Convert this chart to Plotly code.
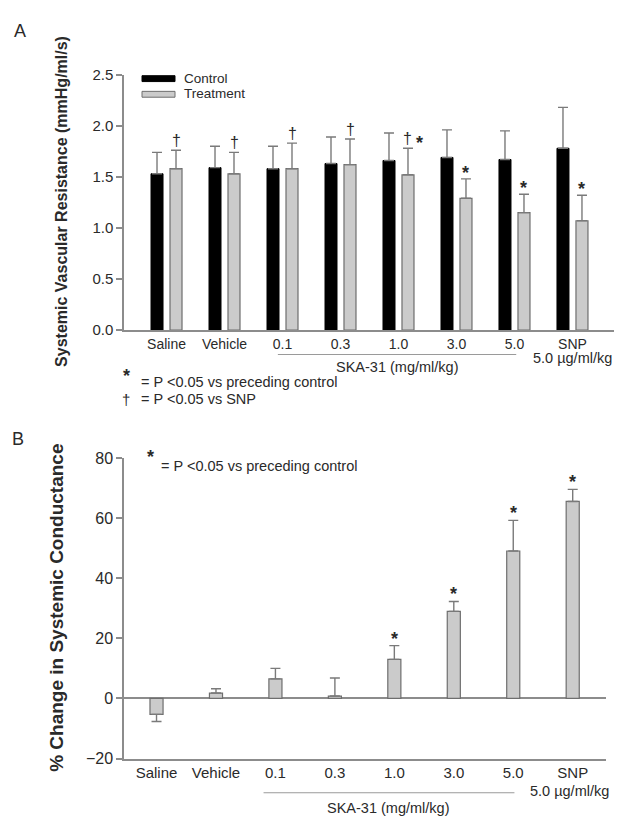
import plotly.graph_objects as go

# ---------------- data ----------------
categories = ["Saline", "Vehicle", "0.1", "0.3", "1.0", "3.0", "5.0", "SNP"]

control_svr = [1.53, 1.59, 1.58, 1.63, 1.66, 1.69, 1.67, 1.78]
control_err = [0.21, 0.21, 0.22, 0.26, 0.27, 0.27, 0.28, 0.40]
treat_svr = [1.58, 1.53, 1.58, 1.62, 1.52, 1.29, 1.15, 1.07]
treat_err = [0.18, 0.21, 0.25, 0.25, 0.26, 0.19, 0.18, 0.25]
dagger_A = [True, True, True, True, True, False, False, False]
star_A = [False, False, False, False, True, True, True, True]

pct_change = [-5.3, 1.8, 6.5, 0.8, 13.0, 29.0, 49.1, 65.6]
pct_err = [2.4, 1.4, 3.5, 6.0, 4.6, 3.3, 10.2, 4.0]
star_B = [False, False, False, False, True, True, True, True]

series_names = ["Control", "Treatment"]

# ---------------- styling ----------------
# page is 632x835; the html body adds an 8px margin, so the figure is 8px smaller
OFF = 8
W, H = 632 - OFF, 835 - OFF
FONT = "Liberation Sans, Arial, Helvetica, sans-serif"
AXC = "#8c8c8c"
TXT = "#2a2a2a"
GRAY_FILL = "#cbcbcb"
GRAY_LINE = "#6e6e6e"


def px_x(p):
    """page pixel x -> paper fraction"""
    return (p - OFF) / W


def px_y(p):
    """page pixel y -> paper fraction"""
    return 1 - (p - OFF) / H


fig = go.Figure()

err_style = dict(type="data", symmetric=False, color="#7a7a7a", thickness=1.4, width=5)

fig.add_trace(go.Bar(
    x=categories, y=control_svr, name=series_names[0],
    marker=dict(color="#000000", line=dict(color="#000000", width=1)),
    error_y=dict(array=control_err, arrayminus=[0] * len(control_err), **err_style),
    xaxis="x", yaxis="y", showlegend=False,
))
fig.add_trace(go.Bar(
    x=categories, y=treat_svr, name=series_names[1],
    marker=dict(color=GRAY_FILL, line=dict(color=GRAY_LINE, width=1.2)),
    error_y=dict(array=treat_err, arrayminus=[0] * len(treat_err), **err_style),
    xaxis="x", yaxis="y", showlegend=False,
))

plus_B = [e if v >= 0 else 0 for v, e in zip(pct_change, pct_err)]
minus_B = [e if v < 0 else 0 for v, e in zip(pct_change, pct_err)]
fig.add_trace(go.Bar(
    x=categories, y=pct_change, name="% Change",
    marker=dict(color=GRAY_FILL, line=dict(color=GRAY_LINE, width=1.2)),
    error_y=dict(array=plus_B, arrayminus=minus_B, **err_style),
    xaxis="x2", yaxis="y2", showlegend=False, width=0.22,
))

tickfont = dict(family=FONT, size=14, color=TXT)

fig.update_layout(
    width=W, height=H,
    margin=dict(l=0, r=0, t=0, b=0),
    paper_bgcolor="white", plot_bgcolor="white",
    barmode="group", bargap=0.345, bargroupgap=0.368,
    font=dict(family=FONT, color=TXT),
    xaxis=dict(type="category", domain=[px_x(124), px_x(614)], anchor="y", range=[-0.733, 7.716],
               showline=True, linecolor=AXC, linewidth=1.5, ticks="", showgrid=False,
               tickfont=tickfont, zeroline=False),
    yaxis=dict(domain=[px_y(328), px_y(67)], anchor="x", range=[0, 2.5], dtick=0.5,
               tickformat=".1f", showline=True, linecolor=AXC, linewidth=1.5,
               ticks="outside", ticklen=6, tickcolor=AXC, tickwidth=1.5,
               showgrid=False, zeroline=False, tickfont=dict(family=FONT, size=15, color=TXT)),
    xaxis2=dict(type="category", domain=[px_x(124), px_x(606)], anchor="y2", range=[-0.547, 7.56],
                showline=True, linecolor=AXC, linewidth=1.5, ticks="", showgrid=False,
                tickfont=dict(family=FONT, size=15, color=TXT), zeroline=False),
    yaxis2=dict(domain=[px_y(766), px_y(459)], anchor="x2", range=[-20, 80], dtick=20,
                showline=True, linecolor=AXC, linewidth=1.5,
                ticks="outside", ticklen=6, tickcolor=AXC, tickwidth=1.5,
                showgrid=False, zeroline=True, zerolinecolor=AXC, zerolinewidth=1.5,
                tickfont=dict(family=FONT, size=16, color=TXT)),
)

ann = []
shapes = []

# panel letters
ann.append(dict(text="A", x=px_x(20), y=px_y(22), xref="paper", yref="paper",
                xanchor="center", yanchor="middle",
                showarrow=False, font=dict(family=FONT, size=18, color=TXT)))
ann.append(dict(text="B", x=px_x(18), y=px_y(439), xref="paper", yref="paper",
                xanchor="center", yanchor="middle",
                showarrow=False, font=dict(family=FONT, size=18, color=TXT)))

# axis titles
ann.append(dict(text="<b>Systemic Vascular Resistance (mmHg/ml/s)</b>", x=px_x(62), y=px_y(197),
                xref="paper", yref="paper", textangle=-90, showarrow=False,
                xanchor="center", yanchor="middle", font=dict(family=FONT, size=16, color=TXT)))
ann.append(dict(text="<b>% Change in Systemic Conductance</b>", x=px_x(57), y=px_y(612),
                xref="paper", yref="paper", textangle=-90, showarrow=False,
                xanchor="center", yanchor="middle", font=dict(family=FONT, size=19, color=TXT)))

# legend (panel A)
shapes.append(dict(type="rect", xref="paper", yref="paper", x0=px_x(142), x1=px_x(175),
                   y0=px_y(74), y1=px_y(68), fillcolor="#000000", line=dict(color="#000000", width=1)))
shapes.append(dict(type="rect", xref="paper", yref="paper", x0=px_x(142), x1=px_x(175),
                   y0=px_y(90), y1=px_y(84), fillcolor=GRAY_FILL, line=dict(color=GRAY_LINE, width=1)))
for name, yy in zip(series_names, [70.5, 86.5]):
    ann.append(dict(text=name, x=px_x(183), y=px_y(yy), xref="paper", yref="paper",
                    xanchor="left", yanchor="middle", showarrow=False, borderpad=0,
                    font=dict(family=FONT, size=13.5, color=TXT)))

# significance marks panel A (x given as category index)
TSHIFT = 9.5
for i, (v, e, d, s) in enumerate(zip(treat_svr, treat_err, dagger_A, star_A)):
    top = v + e
    if d:
        ann.append(dict(text="†", x=i, y=top, xref="x", yref="y", xshift=TSHIFT, yshift=10,
                        xanchor="center", yanchor="middle", showarrow=False,
                        font=dict(family=FONT, size=16, color=TXT)))
    if s:
        ann.append(dict(text="<b>*</b>", x=i, y=top, xref="x", yref="y",
                        xshift=TSHIFT + (12 if d else 0), yshift=6 if not d else 5,
                        xanchor="center", yanchor="middle", showarrow=False,
                        font=dict(family=FONT, size=18, color=TXT)))

# significance marks panel B
for i, (v, e, s) in enumerate(zip(pct_change, plus_B, star_B)):
    if s:
        ann.append(dict(text="<b>*</b>", x=i, y=v + e, xref="x2", yref="y2", yshift=7,
                        xanchor="center", yanchor="middle", showarrow=False,
                        font=dict(family=FONT, size=18, color=TXT)))

# footnotes panel A
ann.append(dict(text="<b>*</b>", x=px_x(126), y=px_y(375), xref="paper", yref="paper",
                showarrow=False, xanchor="center", yanchor="middle",
                font=dict(family=FONT, size=18, color=TXT)))
ann.append(dict(text="= P &lt;0.05 vs preceding control", x=px_x(139), y=px_y(381),
                xref="paper", yref="paper", showarrow=False, xanchor="left", yanchor="middle",
                font=dict(family=FONT, size=14.5, color=TXT)))
ann.append(dict(text="†", x=px_x(126), y=px_y(399), xref="paper", yref="paper",
                showarrow=False, xanchor="center", yanchor="middle",
                font=dict(family=FONT, size=15, color=TXT)))
ann.append(dict(text="= P &lt;0.05 vs SNP", x=px_x(139), y=px_y(399),
                xref="paper", yref="paper", showarrow=False, xanchor="left", yanchor="middle",
                font=dict(family=FONT, size=14.5, color=TXT)))

# footnote panel B
ann.append(dict(text="<b>*</b>", x=px_x(150), y=px_y(458), xref="paper", yref="paper",
                showarrow=False, xanchor="center", yanchor="middle",
                font=dict(family=FONT, size=18, color=TXT)))
ann.append(dict(text="= P &lt;0.05 vs preceding control", x=px_x(159), y=px_y(467),
                xref="paper", yref="paper", showarrow=False, xanchor="left", yanchor="middle",
                font=dict(family=FONT, size=14.5, color=TXT)))

# SKA-31 group labels
for xr, x0, x1, yl, yt, ys, xc, xsnp in [("x", 1.92, 6.03, 353, 363, 357, 3.97, 7.0),
                                          ("x2", 1.8, 6.02, 801, 814, 799, 3.9, 6.95)]:
    shapes.append(dict(type="line", xref=xr, yref="paper", x0=x0, x1=x1,
                       y0=px_y(yl), y1=px_y(yl), line=dict(color="#9a9a9a", width=1.2)))
    ann.append(dict(text="SKA-31 (mg/ml/kg)", x=xc, y=px_y(yt + 3), xref=xr, yref="paper",
                    showarrow=False, xanchor="center", yanchor="middle",
                    font=dict(family=FONT, size=14.5, color=TXT)))
    ann.append(dict(text="5.0 µg/ml/kg", x=xsnp, y=px_y(ys), xref=xr, yref="paper",
                    showarrow=False, xanchor="center", yanchor="middle",
                    font=dict(family=FONT, size=14.5, color=TXT)))

fig.update_layout(annotations=ann, shapes=shapes)

fig.write_html("out.html")
